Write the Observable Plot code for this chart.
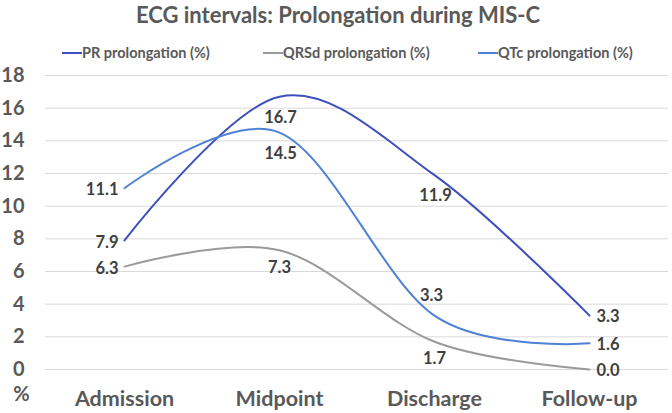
<!DOCTYPE html>
<html>
<head>
<meta charset="utf-8">
<script src="https://cdn.jsdelivr.net/npm/d3@7"></script>
<script src="https://cdn.jsdelivr.net/npm/@observablehq/plot@0.6"></script>
<style>
  html, body { margin: 0; padding: 0; background: #fff; }
  #wrap { position: relative; width: 672px; height: 413px; font-family: Lato, "Open Sans", sans-serif; }
  #title { position: absolute; left: 0; top: 0px; width: 676px; text-align: center; font-size: 22px; line-height: 30px; font-weight: 700; color: #595959; z-index: 2; }
  #legend { position: absolute; top: 44px; left: 0; width: 672px; height: 18px; font-size: 14.5px; font-weight: 700; color: #595959; z-index: 2; }
  .item { position: absolute; top: 0; white-space: nowrap; line-height: 18px; }
  .sw { display: inline-block; width: 20px; height: 2px; vertical-align: middle; margin-right: 0px; position: relative; top: -1px; }
  #chart { position: absolute; left: 0; top: 58px; z-index: 1; }
  #chart svg { overflow: visible; background: transparent; }
</style>
</head>
<body>
<div id="wrap">
  <div id="title">ECG intervals: Prolongation during MIS-C</div>
  <div id="legend"></div>
  <div id="chart"></div>
</div>
<script>
const categories = ["Admission", "Midpoint", "Discharge", "Follow-up"];
const seriesNames = ["PR prolongation (%)", "QRSd prolongation (%)", "QTc prolongation (%)"];
const prValues = [7.9, 16.7, 11.9, 3.3];
const qrsdValues = [6.3, 7.3, 1.7, 0.0];
const qtcValues = [11.1, 14.5, 3.3, 1.6];
const yTicks = [0, 2, 4, 6, 8, 10, 12, 14, 16, 18];
const yUnit = "%";

const colors = ["#3d4fbf", "#9a9a9a", "#4f82d6"];
const seriesValues = [prValues, qrsdValues, qtcValues];

const data = [];
seriesNames.forEach((s, si) => {
  categories.forEach((c, ci) => {
    data.push({series: s, si, category: c, ci, value: seriesValues[si][ci]});
  });
});

// legend
const legend = document.getElementById("legend");
const legendLefts = [62, 263, 478];
seriesNames.forEach((s, i) => {
  const d = document.createElement("div");
  d.className = "item";
  d.style.left = legendLefts[i] + "px";
  d.innerHTML = `<span class="sw" style="background:${colors[i]}"></span>${s}`;
  legend.appendChild(d);
});

// label placement
function place(d) {
  if (d.ci === 0) return "left";
  if (d.ci === categories.length - 1) return "right";
  if (d.si === 2 && d.ci === 2) return "above";
  if (d.value > 10) return "below2";
  return "below";
}
const placements = {
  left: {dx: -6, dy: 2, textAnchor: "end"},
  right: {dx: 7, dy: 1, textAnchor: "start"},
  above: {dx: -3, dy: -20, textAnchor: "middle"},
  below: {dx: 0, dy: 17, textAnchor: "middle"},
  below2: {dx: 1, dy: 21, textAnchor: "middle"}
};
const labelMarks = Object.entries(placements).map(([k, p]) =>
  Plot.text(data.filter(d => place(d) === k), {
    x: "category", y: "value", text: d => d.value.toFixed(1),
    dx: p.dx, dy: p.dy, textAnchor: p.textAnchor,
    fontSize: 16.5, fontWeight: 700, fill: "#404040"
  })
);

const chart = Plot.plot({
  width: 672,
  height: 355,
  marginTop: 17,
  marginBottom: 44,
  marginLeft: 45,
  marginRight: 4,
  style: {fontFamily: "Lato, 'Open Sans', sans-serif", background: "transparent"},
  x: {type: "point", domain: categories, padding: 0.5, label: null},
  y: {domain: [0, 18], label: null},
  color: {domain: seriesNames, range: colors},
  marks: [
    Plot.gridY(yTicks, {stroke: "#d9d9d9", strokeOpacity: 1, strokeWidth: 1}),
    Plot.axisY(yTicks, {tickSize: 0, tickPadding: 21, fontSize: 20, fontWeight: 700, fill: "#595959", label: null}),
    Plot.axisX({tickSize: 0, tickPadding: 21, fontSize: 21.5, fontWeight: 700, fill: "#595959", label: null}),
    Plot.text([yUnit], {frameAnchor: "bottom-left", dx: -24, dy: 31, text: d => d, fontSize: 20, fontWeight: 700, fill: "#595959", textAnchor: "middle"}),
    Plot.line(data, {x: "category", y: "value", z: "series", stroke: "series", strokeWidth: 2, curve: "cardinal"}),
    ...labelMarks
  ]
});
document.getElementById("chart").appendChild(chart);
</script>
</body>
</html>
